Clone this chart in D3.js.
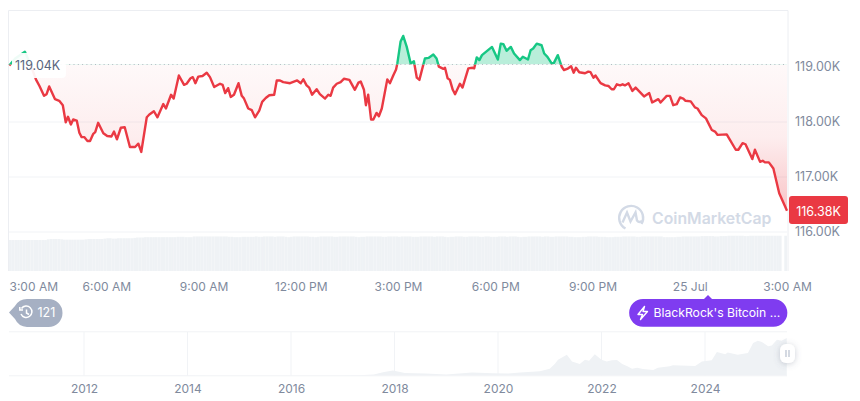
<!DOCTYPE html>
<html>
<head>
<meta charset="utf-8">
<script src="https://cdn.jsdelivr.net/npm/d3@7"></script>
<style>
  body { margin: 0; background: #fff; }
  svg { display: block; }
  text { font-family: Inter, "Noto Sans", sans-serif; }
</style>
</head>
<body>
<div id="chart"></div>
<script>
// Price, hours since 3:00 AM
const hours = [
  0.01,0.19,0.49,0.65,0.83,0.94,1.08,1.16,1.24,1.42,1.55,1.66,1.75,1.82,1.91,1.98,2.09,2.17,2.24,2.32,
  2.42,2.50,2.60,2.66,2.75,2.91,3.03,3.16,3.24,3.33,3.45,3.57,3.73,3.89,3.99,4.08,4.25,4.33,4.47,4.58,
  4.76,4.84,5.00,5.08,5.24,5.40,5.48,5.60,5.67,5.75,5.84,5.97,6.10,6.20,6.33,6.51,6.59,6.67,6.76,6.84,
  6.94,7.08,7.18,7.25,7.38,7.49,7.59,7.72,7.81,7.92,8.03,8.18,8.26,8.36,8.46,8.67,8.89,9.00,9.08,9.18,
  9.26,9.35,9.49,9.59,9.75,9.85,9.92,10.00,10.11,10.23,10.33,10.50,10.67,10.78,10.85,10.95,11.01,11.08,11.17,11.24,
  11.34,11.41,11.50,11.67,11.75,11.86,11.94,11.98,12.08,12.16,12.27,12.39,12.49,12.58,12.66,12.83,12.94,13.09,13.19,13.26,
  13.40,13.45,13.53,13.60,13.69,13.76,13.91,13.99,14.17,14.30,14.35,14.43,14.51,14.59,14.90,15.08,15.17,15.25,15.35,15.48,
  15.58,15.76,15.85,16.01,16.09,16.17,16.28,16.43,16.51,16.61,16.74,16.81,16.93,17.05,17.12,17.22,17.34,17.42,17.49,17.59,
  17.77,17.87,17.94,18.03,18.09,18.25,18.39,18.49,18.59,18.66,18.75,18.85,18.93,19.00,19.11,19.23,19.33,19.59,19.75,19.84,
  20.03,20.10,20.29,20.39,20.49,20.60,20.70,20.80,20.87,21.03,21.16,21.24,21.37,21.50,21.68,21.78,21.86,22.14,22.24,22.42,
  22.50,22.63,22.72,22.93,23.01,23.17,23.25,23.32,23.44,23.58,23.76,24.00
];
const prices = [
  119.02,119.15,119.27,119.06,118.77,118.65,118.47,118.50,118.64,118.41,118.38,118.30,117.99,118.09,117.95,118.04,118.02,117.80,117.72,117.72,
  117.65,117.65,117.78,117.81,117.98,117.79,117.74,117.73,117.82,117.68,117.89,117.90,117.54,117.54,117.60,117.45,118.08,118.13,118.19,118.08,
  118.32,118.24,118.49,118.42,118.84,118.67,118.69,118.79,118.81,118.70,118.82,118.83,118.89,118.81,118.63,118.69,118.67,118.52,118.61,118.45,
  118.49,118.70,118.47,118.42,118.24,118.21,118.08,118.20,118.36,118.43,118.48,118.49,118.75,118.75,118.72,118.70,118.75,118.70,118.77,118.66,
  118.62,118.49,118.59,118.50,118.42,118.49,118.47,118.62,118.69,118.72,118.78,118.76,118.58,118.71,118.73,118.58,118.30,118.49,118.04,118.04,
  118.16,118.10,118.24,118.77,118.70,118.85,118.95,119.06,119.46,119.56,119.36,119.06,119.10,118.80,118.76,119.15,119.16,119.22,119.15,119.00,
  118.96,118.98,118.79,118.76,118.58,118.50,118.69,118.62,118.97,118.98,118.97,119.17,119.12,119.21,119.36,119.13,119.42,119.41,119.29,119.36,
  119.24,119.12,119.18,119.13,119.30,119.33,119.42,119.39,119.24,119.18,119.06,119.07,119.21,119.00,118.94,118.96,119.01,118.89,118.98,118.90,
  118.88,118.91,118.90,118.80,118.84,118.70,118.66,118.65,118.59,118.59,118.68,118.66,118.68,118.66,118.70,118.56,118.62,118.46,118.52,118.35,
  118.41,118.35,118.47,118.47,118.30,118.32,118.44,118.42,118.38,118.37,118.26,118.24,118.12,118.06,117.85,117.82,117.76,117.77,117.67,117.49,
  117.49,117.61,117.59,117.32,117.49,117.27,117.29,117.26,117.26,117.15,116.70,116.38
];
const basePrice = 119.04;
const lastPrice = 116.38;

// Volume, one bar per 5 minutes
const volumes = [
  86,86,86,86,86,86,86,86,86,86,86,86,
  86,86,88,89,89,89,89,88,87,87,87,87,
  87,87,87,87,88,89,89,89,89,89,89,90,
  91,91,90,90,91,91,91,91,91,91,92,93,
  93,93,94,94,94,94,94,94,94,94,94,94,
  94,94,95,95,95,94,94,94,96,96,96,96,
  96,96,96,96,96,96,96,96,96,95,95,94,
  94,94,95,95,95,95,95,96,95,95,96,96,
  96,96,95,96,96,96,95,94,95,96,96,96,
  96,96,96,95,95,94,95,96,96,96,96,96,
  95,95,96,96,96,96,96,96,95,94,95,95,
  96,96,96,96,96,96,95,95,96,96,96,96,
  95,96,96,96,96,95,95,95,96,96,96,96,
  96,95,96,96,96,95,94,95,95,96,96,96,
  95,95,96,96,96,96,95,95,96,96,95,95,
  95,96,96,96,95,96,96,96,95,94,95,95,
  96,96,96,96,96,95,96,96,95,95,96,96,
  96,96,96,95,95,94,94,94,95,95,96,96,
  96,96,95,95,95,94,94,94,95,95,95,96,
  96,96,96,96,95,95,96,96,96,96,96,96,
  96,96,94,94,94,94,94,95,95,96,96,96,
  96,96,96,96,97,97,97,97,97,96,96,97,
  97,97,98,98,98,98,98,98,97,97,98,98,
  98,98,98,98,98,98,98,98,98,98,0,98
];

// Axis ticks
const priceTicks = [119, 118, 117, 116];
const timeTicks = [0, 3, 6, 9, 12, 15, 18, 21, 24];
const timeLabels = ["3:00 AM", "6:00 AM", "9:00 AM", "12:00 PM", "3:00 PM", "6:00 PM", "9:00 PM", "25 Jul", "3:00 AM"];

// Navigator, all history
const navYears = [
  2010.55,2013.9,2016.5,2017.3,2017.6,2017.8,2017.97,2018.2,2018.6,2019.0,2019.5,2019.9,2020.2,2020.43,2020.81,2021.0,2021.1,2021.16,2021.33,2021.43,
  2021.58,2021.68,2021.76,2021.87,2022.0,2022.1,2022.2,2022.3,2022.4,2022.5,2022.59,2022.69,2022.8,2023.0,2023.09,2023.32,2023.38,2023.81,2023.94,2024.13,
  2024.23,2024.39,2024.44,2024.63,2024.83,2024.93,2025.02,2025.1,2025.22,2025.29,2025.39,2025.48,2025.58
];
const navPrices = [
  0.2,0.8,0.7,1.5,4,12,18,9,7,4,11,8,7,11,15,24,41,55,72,49,
  40,55,51,74,55,49,53,54,40,32,24,27,23,19,27,32,36,33,49,53,
  81,74,80,72,78,112,120,116,101,104,124,120,130
];
const navTicks = [2012, 2014, 2016, 2018, 2020, 2022, 2024];

const red = "#ea3943";
const green = "#16c784";
const grey = "#808a9d";
const gridColor = "#f1f3f6";

const svg = d3.select("#chart").append("svg").attr("width", 860).attr("height", 401);

const x = d3.scaleLinear().domain([0, 24]).range([9, 787]);
const y = d3.scaleLinear().domain([116, 118]).range([231.7, 121.7]);
const volY = d3.scaleLinear().domain([0, 100]).range([271, 235]);
const navX = d3.scaleLinear().domain([2012, 2014]).range([84, 187.5]);
const navY = d3.scaleLinear().domain([0, 130]).range([375.6, 337.9]);

const baseY = y(basePrice);
const points = hours.map((h, i) => [h, prices[i]]);

// gradients and clips for the two sides of the base price
const defs = svg.append("defs");
const redGrad = defs.append("linearGradient").attr("id", "redGrad")
  .attr("gradientUnits", "userSpaceOnUse")
  .attr("x1", 0).attr("x2", 0).attr("y1", baseY).attr("y2", y(lastPrice));
redGrad.append("stop").attr("offset", 0).attr("stop-color", red).attr("stop-opacity", 0.03);
redGrad.append("stop").attr("offset", 0.5).attr("stop-color", red).attr("stop-opacity", 0.09);
redGrad.append("stop").attr("offset", 1).attr("stop-color", red).attr("stop-opacity", 0.3);

defs.append("clipPath").attr("id", "above").append("rect")
  .attr("x", 0).attr("y", 0).attr("width", 860).attr("height", baseY);
defs.append("clipPath").attr("id", "below").append("rect")
  .attr("x", 0).attr("y", baseY).attr("width", 860).attr("height", 401 - baseY);

const shadow = defs.append("filter").attr("id", "handleShadow")
  .attr("x", "-60%").attr("y", "-60%").attr("width", "220%").attr("height", "220%");
shadow.append("feDropShadow").attr("dx", 0).attr("dy", 1).attr("stdDeviation", 3)
  .attr("flood-color", "#58667e").attr("flood-opacity", 0.3);

// frame
svg.append("path")
  .attr("d", `M8.5,271V10.5H${x(24) + 1}V271`)
  .attr("fill", "none").attr("stroke", "#eceef2").attr("stroke-width", 1);

// volume bars
const barX = d3.scaleBand().domain(d3.range(volumes.length)).range([9, 787]);
svg.append("g").selectAll("rect").data(volumes).join("rect")
  .attr("x", (d, i) => barX(i))
  .attr("y", d => volY(d))
  .attr("width", barX.bandwidth())
  .attr("height", d => volY(0) - volY(d))
  .attr("fill", "#eff2f5");

// y axis
const yAxis = d3.axisRight(y).tickValues(priceTicks)
  .tickSize(0).tickPadding(8)
  .tickFormat(d => d3.format(".2f")(d) + "K");
const yG = svg.append("g").attr("transform", `translate(${x(24)},0)`).call(yAxis);
yG.select(".domain").remove();
yG.selectAll("text").attr("font-size", 12.5).attr("fill", grey).style("font-family", "Inter");

// grid
svg.append("g").selectAll("line").data(priceTicks.slice(1)).join("line")
  .attr("x1", 9).attr("x2", x(24))
  .attr("y1", d => y(d) + 0.3).attr("y2", d => y(d) + 0.3)
  .attr("stroke", gridColor);

// watermark
const mark = svg.append("g").attr("fill", "none").attr("stroke", "#d3dae6").attr("stroke-width", 2.4);
mark.append("path").attr("d", "M625.5,228.5A12,12 0 1 1 641.5,224");
mark.append("path").attr("d", "M622.5,222.5L627,212.5L630.5,221.5L635.5,212.5L637,220.5Q639,223 642,221");
svg.append("text").attr("x", 652).attr("y", 224)
  .attr("font-size", 15.8).attr("font-weight", 600).attr("fill", "#d3dae6")
  .text("CoinMarketCap");

// areas either side of the base price
const area = d3.area().x(d => x(d[0])).y0(baseY).y1(d => y(d[1]));
const line = d3.line().x(d => x(d[0])).y(d => y(d[1]));

svg.append("path").datum(points).attr("d", area)
  .attr("fill", "url(#redGrad)").attr("clip-path", "url(#below)");
svg.append("path").datum(points).attr("d", area)
  .attr("fill", green).attr("fill-opacity", 0.3).attr("clip-path", "url(#above)");

// base price dots
svg.append("line")
  .attr("x1", x(0)).attr("x2", x(24)).attr("y1", baseY).attr("y2", baseY)
  .attr("stroke", "#b4b9c3").attr("stroke-width", 1).attr("stroke-dasharray", "1 3.3");

svg.append("path").datum(points).attr("d", line)
  .attr("fill", "none").attr("stroke", red).attr("stroke-width", 2.4)
  .attr("stroke-linejoin", "round").attr("clip-path", "url(#below)");
svg.append("path").datum(points).attr("d", line)
  .attr("fill", "none").attr("stroke", green).attr("stroke-width", 2.4)
  .attr("stroke-linejoin", "round").attr("clip-path", "url(#above)");

// base price label
svg.append("rect").attr("x", 12).attr("y", 53).attr("width", 54).attr("height", 25).attr("rx", 4)
  .attr("fill", "#fff").attr("fill-opacity", 0.93);
svg.append("text").attr("x", 15).attr("y", 70.3)
  .attr("font-size", 12.5).attr("fill", "#58667e").text(d3.format(".2f")(basePrice) + "K");

// last price tag
svg.append("rect").attr("x", 789).attr("y", 196).attr("width", 59).attr("height", 28).attr("rx", 3)
  .attr("fill", red);
svg.append("text").attr("x", 818.5).attr("y", y(lastPrice) + 4.7).attr("text-anchor", "middle")
  .attr("font-size", 12.5).attr("fill", "#fff").text(d3.format(".2f")(lastPrice) + "K");

// x axis
const xAxis = d3.axisBottom(x).tickValues(timeTicks)
  .tickSize(0).tickPadding(0)
  .tickFormat((d, i) => timeLabels[i]);
const xG = svg.append("g").attr("transform", "translate(0,282.5)").call(xAxis);
xG.select(".domain").remove();
xG.selectAll("text").attr("font-size", 12).attr("fill", grey).style("font-family", "Inter");
xG.selectAll("text").filter((d, i) => i == 0).attr("text-anchor", "start");

// news flags
svg.append("path")
  .attr("d", "M9,312.5L15,306A14,14 0 0 1 27,299H48.5A14,14 0 0 1 48.5,327H27A14,14 0 0 1 15,319Z")
  .attr("fill", "#a6b0c3");
const clock = svg.append("g").attr("fill", "none").attr("stroke", "#fff").attr("stroke-width", 1.5);
clock.append("path").attr("d", "M21.5,308.5A5.7,5.7 0 1 1 21,314");
clock.append("path").attr("d", "M19.8,307V310H23M26.5,309.5V313L29,314.5");
svg.append("text").attr("x", 37.5).attr("y", 317.3)
  .attr("font-size", 12.5).attr("fill", "#fff").text("121");

svg.append("path")
  .attr("d", "M643,299H704L708,295L712,299H773.5A13.8,13.8 0 0 1 773.5,326.7H643A13.8,13.8 0 0 1 643,299Z")
  .attr("fill", "#7f3cf0");
svg.append("path")
  .attr("d", "M644.5,306.5L638,314.5H642.5L640.5,319.5L647.5,311.5H643Z")
  .attr("fill", "none").attr("stroke", "#fff").attr("stroke-width", 1.4).attr("stroke-linejoin", "round");
svg.append("text").attr("x", 653.5).attr("y", 317.3)
  .attr("font-size", 12.2).attr("fill", "#fff").text("BlackRock's Bitcoin ...");

// navigator
svg.append("g").selectAll("line").data(navTicks).join("line")
  .attr("x1", d => navX(d)).attr("x2", d => navX(d))
  .attr("y1", 332).attr("y2", 375.6)
  .attr("stroke", gridColor);
svg.append("line").attr("x1", 9).attr("x2", x(24)).attr("y1", 331.8).attr("y2", 331.8).attr("stroke", gridColor);

const navArea = d3.area().x((d, i) => navX(navYears[i])).y0(navY(0)).y1(d => navY(d));
svg.append("path").datum(navPrices).attr("d", navArea).attr("fill", "#eff2f5");
svg.append("line").attr("x1", 9).attr("x2", x(24)).attr("y1", 375.8).attr("y2", 375.8).attr("stroke", gridColor);

const navAxis = d3.axisBottom(navX).tickValues(navTicks)
  .tickSize(0).tickPadding(0).tickFormat(d3.format("d"));
const navG = svg.append("g").attr("transform", "translate(0,384.5)").call(navAxis);
navG.select(".domain").remove();
navG.selectAll("text").attr("font-size", 12).attr("fill", grey).style("font-family", "Inter");

// navigator handle
svg.append("rect").attr("x", 780).attr("y", 344).attr("width", 15).attr("height", 19).attr("rx", 6)
  .attr("fill", "#fff").attr("filter", "url(#handleShadow)");
svg.append("path").attr("d", "M786,350V357M789,350V357")
  .attr("stroke", "#c3cad6").attr("stroke-width", 1.4).attr("fill", "none");
</script>
</body>
</html>
